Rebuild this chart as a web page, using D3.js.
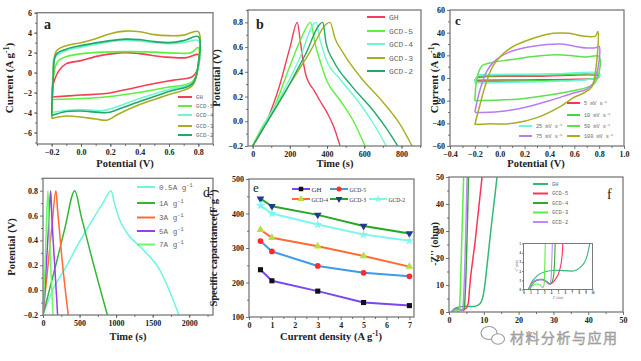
<!DOCTYPE html>
<html>
<head>
<meta charset="utf-8">
<script src="https://cdn.jsdelivr.net/npm/d3@7"></script>
<style>
body { margin: 0; background: #fff; }
svg { display: block; }
</style>
</head>
<body>
<svg id="fig" width="641" height="361"></svg>
<script>
// ---- data ----
var samples = ["GH", "GCD-5", "GCD-4", "GCD-3", "GCD-2"];

// a: CV loops of the samples, [V, A/g]
var cvGH = [[-0.2,-2.45],[-0.19,-1.2],[-0.15,0.2],[-0.1,0.9],[0,1.2],[0.13,1.7],[0.3,2.0],[0.4,1.9],[0.58,1.55],[0.72,1.5],[0.8,1.8],[0.8,0.6],[0.76,-0.4],[0.63,-0.75],[0.45,-1.25],[0.29,-1.75],[0.17,-2.1],[0,-2.25],[-0.2,-2.45]];
var cvGCD5 = [[-0.2,-2.7],[-0.19,-0.5],[-0.16,1.1],[-0.1,1.6],[0.04,1.95],[0.3,2.1],[0.5,2.05],[0.65,1.95],[0.75,2.0],[0.8,2.5],[0.8,0.8],[0.76,-0.9],[0.58,-1.5],[0.35,-2.1],[0.13,-2.5],[-0.1,-2.65],[-0.2,-2.7]];
var cvGCD4 = [[-0.2,-4.0],[-0.19,-0.8],[-0.18,1.5],[-0.1,2.2],[0,2.55],[0.2,3.1],[0.3,3.25],[0.5,3.0],[0.6,2.9],[0.7,3.0],[0.8,3.2],[0.8,0.5],[0.76,-1.0],[0.6,-1.7],[0.4,-2.6],[0.25,-3.4],[0.15,-3.8],[0,-3.7],[-0.1,-3.8],[-0.2,-4.0]];
var cvGCD3 = [[-0.2,-4.6],[-0.19,-1.0],[-0.17,2.1],[-0.1,2.7],[0,3.0],[0.1,3.4],[0.2,3.9],[0.3,4.15],[0.4,4.1],[0.5,3.8],[0.6,3.7],[0.7,3.75],[0.8,4.1],[0.8,1.0],[0.76,-1.3],[0.6,-2.2],[0.4,-3.2],[0.25,-4.2],[0.18,-4.75],[0.1,-4.65],[0,-4.45],[-0.1,-4.35],[-0.2,-4.6]];
var cvGCD2 = [[-0.2,-4.3],[-0.19,-0.8],[-0.17,1.8],[-0.1,2.35],[0,2.7],[0.2,3.2],[0.3,3.35],[0.4,3.3],[0.5,3.1],[0.6,3.0],[0.7,3.2],[0.8,3.6],[0.8,0.8],[0.76,-1.1],[0.6,-1.9],[0.4,-2.9],[0.25,-3.7],[0.18,-4.0],[0,-3.85],[-0.1,-3.9],[-0.2,-4.3]];

// b: GCD curves of the samples, [s, V]
var gcdGH = [[0,-0.2],[75,0.0],[147,0.3],[201,0.6],[240,0.8],[255,0.66],[270,0.5],[285,0.38],[300,0.32],[330,0.25],[360,0.17],[400,0.07],[440,-0.06],[470,-0.2]];
var gcdGCD5 = [[0,-0.2],[50,-0.05],[111,0.1],[201,0.45],[255,0.65],[312,0.8],[335,0.63],[362,0.49],[398,0.33],[470,0.17],[542,0.0],[604,-0.2]];
var gcdGCD4 = [[0,-0.2],[60,-0.03],[150,0.2],[250,0.5],[341,0.8],[362,0.66],[398,0.49],[470,0.34],[578,0.14],[650,-0.02],[718,-0.2]];
var gcdGCD3 = [[0,-0.2],[100,0.05],[200,0.3],[300,0.54],[416,0.8],[443,0.67],[488,0.55],[578,0.36],[703,0.15],[790,-0.02],[857,-0.2]];
var gcdGCD2 = [[0,-0.2],[80,0.0],[180,0.25],[280,0.53],[377,0.8],[395,0.63],[434,0.49],[524,0.3],[649,0.085],[720,-0.06],[780,-0.2]];

// c: CV of one sample at different scan rates, [V, A/g]
var rates = ["5 mV s", "10 mV s", "25 mV s", "50 mV s", "75 mV s", "100 mV s"];
var cv5 = [[-0.2,-2],[-0.18,0.3],[-0.1,1.3],[0.3,1.5],[0.8,1.8],[0.79,0],[0.6,-1.2],[0.2,-1.7],[-0.2,-2]];
var cv10 = [[-0.2,-3],[-0.18,1],[-0.1,1.8],[0.3,2.2],[0.8,2.6],[0.79,0.5],[0.6,-1.8],[0.2,-2.6],[-0.2,-3]];
var cv25 = [[-0.2,-4.5],[-0.19,0],[-0.17,2.5],[-0.1,3],[0.2,3.3],[0.5,3.8],[0.8,4.2],[0.8,1],[0.7,-1.5],[0.4,-3],[0.1,-3.8],[-0.2,-4.5]];
var cv50 = [[-0.2,-20],[-0.19,-5],[-0.17,5],[-0.14,11],[-0.05,14],[0.08,16],[0.27,19],[0.45,20.5],[0.6,19.5],[0.7,18.5],[0.8,19],[0.8,5],[0.76,-5],[0.7,-8.5],[0.6,-11],[0.4,-15],[0.2,-18],[0,-19.5],[-0.2,-20]];
var cv75 = [[-0.2,-30],[-0.17,-15],[-0.146,-6],[-0.106,5.5],[-0.05,14],[0.08,23],[0.27,28],[0.5,30],[0.6,28],[0.7,26.5],[0.78,27],[0.8,28],[0.79,8],[0.75,-5],[0.7,-10],[0.6,-13],[0.4,-20],[0.2,-26],[0,-29.5],[-0.2,-30.5]];
var cv100 = [[-0.2,-41],[-0.16,-24],[-0.106,-3.4],[-0.05,11.4],[0.08,26],[0.27,35],[0.43,39.4],[0.56,39.4],[0.67,37],[0.77,37],[0.79,41],[0.77,5],[0.74,-8],[0.68,-13],[0.6,-17],[0.49,-25],[0.3,-35],[0.11,-40],[-0.1,-40.5],[-0.2,-41]];

// d: GCD at different current densities, [s, V]
var densities = ["0.5A g", "1A g", "3A g", "5A g", "7A g"];
var gcd05 = [[0,-0.2],[136,0.005],[318,0.19],[500,0.39],[682,0.57],[818,0.7],[932,0.8],[977,0.7],[1045,0.57],[1136,0.47],[1364,0.33],[1590,0.17],[1860,-0.2]];
var gcd1 = [[0,-0.2],[100,0.03],[200,0.26],[300,0.5],[435,0.8],[520,0.6],[650,0.3],[880,-0.2]];
var gcd3 = [[0,-0.2],[60,0.15],[120,0.5],[177,0.8],[200,0.64],[260,0.25],[345,-0.2]];
var gcd5 = [[0,-0.2],[40,0.15],[75,0.5],[105,0.8],[120,0.6],[160,0.2],[200,-0.2]];
var gcd7 = [[0,-0.2],[25,0.15],[45,0.5],[68,0.8],[80,0.6],[105,0.2],[137,-0.2]];

// e: specific capacitance vs current density
var currents = [0.5, 1, 3, 5, 7];
var capGH = [237, 205, 175, 142, 133];
var capGCD5 = [320, 290, 248, 228, 218];
var capGCD4 = [353, 330, 305, 277, 246];
var capGCD3 = [443, 421, 396, 364, 342];
var capGCD2 = [423, 400, 368, 339, 321];

// f: Nyquist plots, [Z', -Z'']
var nqGH = [[0.7,0],[1.2,0.8],[2,1.5],[3,1.9],[4.6,2.1],[7,2.0],[8.5,2.6],[9.3,3.9],[9.8,6],[10.3,10],[11,18],[12,30],[13,41],[13.8,50]];
var nqGCD5 = [[0.8,0],[1.2,0.6],[1.8,1.0],[2.5,1.1],[3.2,0.9],[3.8,0.6],[4.5,1.0],[5.2,2.0],[5.6,3.7],[5.9,8.7],[7.5,26],[9.5,50]];
var nqGCD4 = [[0.9,0],[1.3,0.6],[2,1.0],[2.7,1.1],[3.3,0.9],[3.9,0.6],[4.3,1.2],[4.5,3],[4.7,8],[5.6,50]];
var nqGCD3 = [[0.8,0],[1.3,0.4],[1.9,0.6],[2.4,0.5],[2.8,0.2],[3.0,0.6],[3.1,3],[3.3,10],[4.2,50]];
var nqGCD2 = [[0.8,0],[1.3,0.7],[2,1.05],[2.7,1.05],[3.3,0.8],[3.8,0.55],[4.0,1.2],[4.1,3],[4.3,8],[5.2,50]];

// ---- drawing ----
var svg = d3.select("#fig");
var SERIF = "'Liberation Serif', 'DejaVu Serif', serif";
var MONO = "'Liberation Mono', 'DejaVu Sans Mono', monospace";
var clipCount = 0;

function panel(box, xd, yd) {
    var x = d3.scaleLinear().domain(xd).range([box[0], box[1]]);
    var y = d3.scaleLinear().domain(yd).range([box[3], box[2]]);
    var id = "clip" + (clipCount++);
    svg.append("clipPath").attr("id", id).append("rect")
        .attr("x", box[0]).attr("y", box[2])
        .attr("width", box[1] - box[0]).attr("height", box[3] - box[2]);
    var plot = svg.append("g").attr("clip-path", "url(#" + id + ")");
    return {x: x, y: y, plot: plot, box: box};
}

function styleAxis(g, size) {
    g.select(".domain").remove();
    g.selectAll("line").attr("stroke", "#555").attr("stroke-width", 0.8);
    g.selectAll("text").attr("font-family", SERIF).attr("font-weight", "bold")
        .attr("font-size", size || 8).attr("fill", "#222");
}

function axes(p, xt, yt, xfmt, yfmt, xminor, yminor, fs, ts) {
    var b = p.box;
    ts = ts || 3;
    var gx = svg.append("g").attr("transform", "translate(0," + b[3] + ")")
        .call(d3.axisBottom(p.x).tickValues(xt).tickSize(ts).tickPadding(ts > 2 ? 2 : 1).tickFormat(xfmt));
    styleAxis(gx, fs);
    var gy = svg.append("g").attr("transform", "translate(" + b[0] + ",0)")
        .call(d3.axisLeft(p.y).tickValues(yt).tickSize(ts).tickPadding(ts > 2 ? 2 : 1).tickFormat(yfmt));
    styleAxis(gy, fs);
    if (xminor) {
        var mx = svg.append("g").attr("transform", "translate(0," + b[3] + ")")
            .call(d3.axisBottom(p.x).tickValues(xminor).tickSize(2).tickFormat(""));
        styleAxis(mx);
    }
    if (yminor) {
        var my = svg.append("g").attr("transform", "translate(" + b[0] + ",0)")
            .call(d3.axisLeft(p.y).tickValues(yminor).tickSize(2).tickFormat(""));
        styleAxis(my);
    }
}

function frame(p, w) {
    var b = p.box;
    svg.append("rect").attr("x", b[0]).attr("y", b[2])
        .attr("width", b[1] - b[0]).attr("height", b[3] - b[2])
        .attr("fill", "none").attr("stroke", "#7a7a7a").attr("stroke-width", w || 1.3);
}

function curve(p, data, color, width, type) {
    var line = d3.line().x(function(d) { return p.x(d[0]); })
        .y(function(d) { return p.y(d[1]); })
        .curve(type || d3.curveCatmullRom.alpha(0.5));
    p.plot.append("path").datum(data).attr("d", line)
        .attr("fill", "none").attr("stroke", color).attr("stroke-width", width || 1.3)
        .attr("stroke-linejoin", "round");
}

// text with an optional superscript "-1"
function label(x, y, parts, opt) {
    var t = svg.append("text").attr("x", x).attr("y", y)
        .attr("font-family", opt.family || SERIF)
        .attr("font-weight", opt.weight || "bold")
        .attr("font-size", opt.size)
        .attr("fill", opt.fill || "#222")
        .attr("text-anchor", opt.anchor || "start");
    if (opt.rotate) t.attr("transform", "rotate(-90," + x + "," + y + ")");
    if (opt.length) t.attr("textLength", opt.length).attr("lengthAdjust", "spacingAndGlyphs");
    parts.forEach(function(s, i) {
        var ts = t.append("tspan").text(s);
        if (i % 2 == 1) ts.attr("font-size", opt.size * 0.7).attr("dy", -opt.size * 0.4);
        else if (i > 0) ts.attr("dy", opt.size * 0.4);
    });
    return t;
}

function legendRow(x1, x2, y, color, text, size, fam, fill, sup) {
    svg.append("line").attr("x1", x1).attr("x2", x2).attr("y1", y).attr("y2", y)
        .attr("stroke", color).attr("stroke-width", 2);
    label(x2 + 4, y + size * 0.35, sup ? [text, "-1"] : [text],
        {size: size, family: fam, weight: "normal", fill: fill});
}

var f1 = d3.format(".1f"), f0 = d3.format("d");
var sampleColors = ["#f23e5a", "#5ef03c", "#6cf7d0", "#a8ad22", "#22a868"];

// ---- panel a ----
var pa = panel([37, 213, 12.7, 144], [-0.3, 0.9], [-7.15, 6]);
[cvGH, cvGCD5, cvGCD4, cvGCD3, cvGCD2].forEach(function(d, i) { curve(pa, d, sampleColors[i], 1.6); });
frame(pa);
axes(pa, d3.range(-0.2, 0.81, 0.2), d3.range(-6, 6.1, 2), f1, f0,
    d3.range(-0.3, 0.91, 0.1), d3.range(-7, 6.1, 1));
label(44, 29, ["a"], {size: 14});
label(125, 167, ["Potential (V)"], {size: 10.5, anchor: "middle"});
label(13, 78, ["Current (A g", "-1", ")"], {size: 11, anchor: "middle", rotate: true});
samples.forEach(function(s, i) {
    legendRow(178, 192, [97, 106, 115, 126, 135][i], sampleColors[i], s, 5.8, MONO, "#666");
});

// ---- panel b ----
var pb = panel([248, 421, 10, 146], [-25, 905], [-0.2, 0.9]);
[gcdGH, gcdGCD5, gcdGCD4, gcdGCD3, gcdGCD2].forEach(function(d, i) {
    curve(pb, d, sampleColors[i], 1.4, d3.curveMonotoneX);
});
frame(pb);
axes(pb, [0, 200, 400, 600, 800], d3.range(-0.2, 0.81, 0.2), f0, f1,
    d3.range(0, 901, 100), d3.range(-0.1, 0.91, 0.2));
label(256, 29, ["b"], {size: 14});
label(335, 167, ["Time (s)"], {size: 10.5, anchor: "middle"});
label(220, 78, ["Potential (V)"], {size: 10.5, anchor: "middle", rotate: true});
samples.forEach(function(s, i) {
    legendRow(367, 385, [17, 31, 44, 58, 71][i], sampleColors[i], s, 8, MONO, "#666");
});

// ---- panel c ----
var rateColors = ["#ff3358", "#3fd93f", "#6cf7d8", "#5fe04f", "#b97cf0", "#a8ad22"];
var pc = panel([450, 624, 10, 146], [-0.4, 1.0], [-60, 60]);
[cv5, cv10, cv25, cv50, cv75, cv100].forEach(function(d, i) { curve(pc, d, rateColors[i], 1.5); });
frame(pc);
axes(pc, d3.range(-0.4, 1.01, 0.2), d3.range(-60, 61, 20), f1, f0,
    d3.range(-0.3, 0.91, 0.2), d3.range(-50, 51, 20));
label(455, 25, ["c"], {size: 13});
label(536, 167, ["Potential (V)"], {size: 10.5, anchor: "middle"});
label(438, 78, ["Current (A g", "-1", ")"], {size: 11, anchor: "middle", rotate: true});
var cLeg = [[567, 580, 103], [567, 580, 115], [519, 532, 126], [567, 580, 126], [519, 532, 136], [567, 580, 136]];
rates.forEach(function(s, i) {
    legendRow(cLeg[i][0], cLeg[i][1], cLeg[i][2], rateColors[i], s, 5.2, MONO, "#666", true);
});

// ---- panel d ----
var densColors = ["#6cf7dc", "#33b633", "#ff6a35", "#9a3cf0", "#6cf76c"];
var pd = panel([43, 213, 178.3, 315], [0, 2325], [-0.2, 0.9]);
[gcd05, gcd1, gcd3, gcd5, gcd7].forEach(function(d, i) {
    curve(pd, d, densColors[i], 1.5, d3.curveMonotoneX);
});
frame(pd);
axes(pd, [0, 500, 1000, 1500, 2000], d3.range(-0.2, 0.81, 0.2), f0, f1,
    d3.range(250, 2300, 250), d3.range(-0.1, 0.91, 0.2));
label(203, 197, ["d"], {size: 14, weight: "normal"});
label(128, 340, ["Time (s)"], {size: 10.5, anchor: "middle"});
label(15, 247, ["Potential (V)"], {size: 10.5, anchor: "middle", rotate: true});
densities.forEach(function(s, i) {
    legendRow(137, 155, [187, 203, 217.5, 231, 244.5][i], densColors[i], s, 7.6, MONO, "#666", true);
});

// ---- panel e ----
var pe = panel([249, 414, 179, 317], [0, 7.2], [100, 500]);
var capLine = ["#7a46ee", "#3d9be8", "#ff6a35", "#22a822", "#7ef7ea"];
var capMark = ["#111", "#ff2a2a", "#b6e03a", "#233a8c", "#7ef7ea"];
var symbols = [d3.symbolSquare, d3.symbolCircle, d3.symbolTriangle, d3.symbolTriangle, d3.symbolStar];
var symRot = [0, 0, 0, 180, 0];
[capGH, capGCD5, capGCD4, capGCD3, capGCD2].forEach(function(vals, i) {
    var pts = currents.map(function(c, j) { return [c, vals[j]]; });
    curve(pe, pts, capLine[i], 2, d3.curveLinear);
    pe.plot.selectAll(null).data(pts).enter().append("path")
        .attr("d", d3.symbol().type(symbols[i]).size(26))
        .attr("transform", function(d) {
            return "translate(" + pe.x(d[0]) + "," + pe.y(d[1]) + ") rotate(" + symRot[i] + ")";
        })
        .attr("fill", capMark[i]);
});
frame(pe);
axes(pe, d3.range(0, 7.1, 1), d3.range(100, 501, 100), f0, f0,
    d3.range(0.5, 7.1, 1), d3.range(150, 451, 100));
label(253, 192, ["e"], {size: 13, weight: "normal"});
label(331, 340, ["Current density (A g", "-1", ")"], {size: 10.5, anchor: "middle"});
label(217, 248, ["Specific capacitance(F g", "-1", ")"], {size: 10.5, anchor: "middle", rotate: true});
var eLeg = [[292, 310, 189], [330, 348, 189], [292, 310, 199], [330, 348, 199], [369, 387, 199]];
samples.forEach(function(s, i) {
    var r = eLeg[i];
    svg.append("line").attr("x1", r[0]).attr("x2", r[1]).attr("y1", r[2]).attr("y2", r[2])
        .attr("stroke", capLine[i]).attr("stroke-width", 2);
    svg.append("path").attr("d", d3.symbol().type(symbols[i]).size(20))
        .attr("transform", "translate(" + (r[0] + r[1]) / 2 + "," + r[2] + ") rotate(" + symRot[i] + ")")
        .attr("fill", capMark[i]);
    label(r[1] + 1.5, r[2] + 2.5, [s], {size: 7, weight: "normal", fill: "#333",
        length: s.length > 2 ? 16.5 : null});
});

// ---- panel f ----
var nqColors = ["#33b878", "#ff3358", "#35a82a", "#5cee44", "#b88cff"];
var nyq = [nqGH, nqGCD5, nqGCD4, nqGCD3, nqGCD2];
var pf = panel([449, 623, 177, 312], [0, 50], [0, 50]);
nyq.forEach(function(d, i) { curve(pf, d, nqColors[i], 1.5, d3.curveMonotoneX); });
frame(pf);
axes(pf, d3.range(0, 51, 10), d3.range(0, 51, 10), f0, f0,
    d3.range(5, 50, 10), d3.range(5, 50, 10));
label(607, 199, ["f"], {size: 14, weight: "normal"});
label(438, 244, ["-Z'' (ohm)"], {size: 10, anchor: "middle", rotate: true});
samples.forEach(function(s, i) {
    legendRow(533, 548, [184, 193.5, 203, 212.5, 222][i], nqColors[i], s, 5.4, MONO, "#666");
});

// inset of f (white backing first, then the inset plot on top)
svg.append("rect").attr("x", 517).attr("y", 240).attr("width", 80).attr("height", 60).attr("fill", "#fff");
var pi = panel([523.5, 592.5, 243.5, 289.5], [0, 10], [0, 5]);
nyq.forEach(function(d, i) { curve(pi, d, nqColors[i], 1.1, d3.curveMonotoneX); });
frame(pi, 1);
axes(pi, d3.range(0, 10.1, 1), d3.range(0, 5.1, 1), f0, f0, null, null, 3, 1.5);
label(558, 298.5, ["Z' (ohm)"], {size: 3, anchor: "middle", weight: "normal", fill: "#777"});
label(518, 266, ["-Z'' (ohm)"], {size: 3, anchor: "middle", weight: "normal", fill: "#777", rotate: true});

// ---- watermark ----
var wm = svg.append("g").attr("fill", "none").attr("stroke", "#9a9a9a").attr("stroke-width", 1.1);
wm.append("ellipse").attr("cx", 489).attr("cy", 333).attr("rx", 8).attr("ry", 6.5);
wm.append("ellipse").attr("cx", 498).attr("cy", 339).attr("rx", 6.5).attr("ry", 5.2).attr("fill", "#fff");
svg.append("text").attr("x", 510).attr("y", 343)
    .attr("font-family", "'Noto Sans CJK SC', sans-serif").attr("font-size", 14)
    .attr("letter-spacing", 1.5)
    .attr("fill", "#b4b4b4").attr("stroke", "#8e8e8e").attr("stroke-width", 0.4)
    .text("材料分析与应用");
</script>
</body>
</html>
